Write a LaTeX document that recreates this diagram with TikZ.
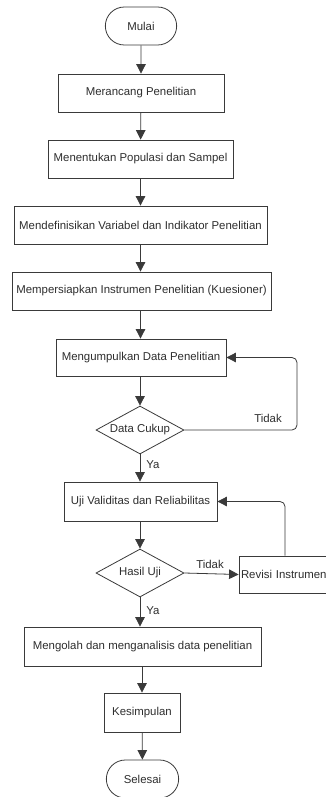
\documentclass[tikz,border=0pt]{standalone}
\usepackage{fontspec}
\setmainfont{Liberation Sans}
\usetikzlibrary{shapes.geometric,shapes.misc,arrows.meta}
\definecolor{ln}{HTML}{3A3A3A}
\definecolor{tx}{HTML}{2E2E2E}
\begin{document}
\begin{tikzpicture}[x=1pt,y=-1pt,
  every node/.style={font=\fontsize{11.4}{13}\selectfont, text=tx},
  proc/.style={draw=ln, line width=0.8pt, rectangle, minimum height=38pt, inner sep=1pt},
  term/.style={draw=ln, line width=0.8pt, rounded rectangle, minimum width=78pt, minimum height=38pt},
  dec/.style={draw=ln, line width=0.8pt, diamond, aspect=1.83, minimum width=88pt, minimum height=48pt, inner sep=0pt},
  lbl/.style={font=\fontsize{11.4}{13}\selectfont},
  arr/.style={draw=ln, line width=0.8pt, -{Triangle[width=9.5pt,length=9.5pt]}, rounded corners=5pt}]
\useasboundingbox (0,0) rectangle (326,797);
\clip (0,0) rectangle (326,797);
\fill[white] (0,0) rectangle (326,797);
\node[term] (mulai) at (141,26) {Mulai};
\node[proc, minimum width=166pt] (n1) at (141,93) {Merancang Penelitian};
\node[proc, minimum width=185pt] (n2) at (140.5,159) {Menentukan Populasi dan Sampel};
\node[proc, minimum width=253pt] (n3) at (140.5,225) {Mendefinisikan Variabel dan Indikator Penelitian};
\node[proc, minimum width=259pt] (n4) at (141.5,291) {Mempersiapkan Instrumen Penelitian (Kuesioner)};
\node[proc, minimum width=170pt, minimum height=37pt] (n5) at (141,357.5) {Mengumpulkan Data Penelitian};
\node[dec] (d1) at (140,430) {Data Cukup};
\node[proc, minimum width=153pt, minimum height=39pt] (n6) at (140.5,501.5) {Uji Validitas dan Reliabilitas};
\node[dec] (d2) at (140,573) {Hasil Uji};
\node[proc, minimum width=92pt, minimum height=37pt, text width=88pt, align=left] (rev) at (285,574.5) {Revisi Instrumen};
\node[proc, minimum width=237pt, minimum height=39pt] (n7) at (142.5,646.5) {Mengolah dan menganalisis data penelitian};
\node[proc, minimum width=76pt, minimum height=39pt] (n8) at (142,712.5) {Kesimpulan};
\node[term, minimum width=79pt] (selesai) at (142.5,779) {Selesai};

\draw[arr] (mulai) -- (n1);
\draw[arr] (n1) -- (n2);
\draw[arr] (n2.south) -- (n3.north -| n2.south);
\draw[arr] (n3.south -| n2.south) -- (n4.north -| n2.south);
\draw[arr] (n4.south -| n2.south) -- (n5.north -| n2.south);
\draw[arr] (n5.south -| d1.north) -- (d1.north);
\draw[arr] (d1.east) -- (297,430) -- (297,357.5) -- (n5.east);
\draw[arr] (d1.south) -- (n6.north -| d1.south);
\draw[arr] (n6.south -| d2.north) -- (d2.north);
\draw[arr] (d2.east) -- (rev.west);
\draw[arr] (rev.north) -- (rev.north |- n6.east) -- (n6.east);
\draw[arr] (d2.south) -- (n7.north -| d2.south);
\draw[arr] (n7.south -| n8.north) -- (n8.north);
\draw[arr] (n8) -- (selesai);

\node[lbl] at (268,418) {Tidak};
\node[lbl] at (153,465) {Ya};
\node[lbl] at (210,564) {Tidak};
\node[lbl] at (153,611) {Ya};
\end{tikzpicture}
\end{document}
